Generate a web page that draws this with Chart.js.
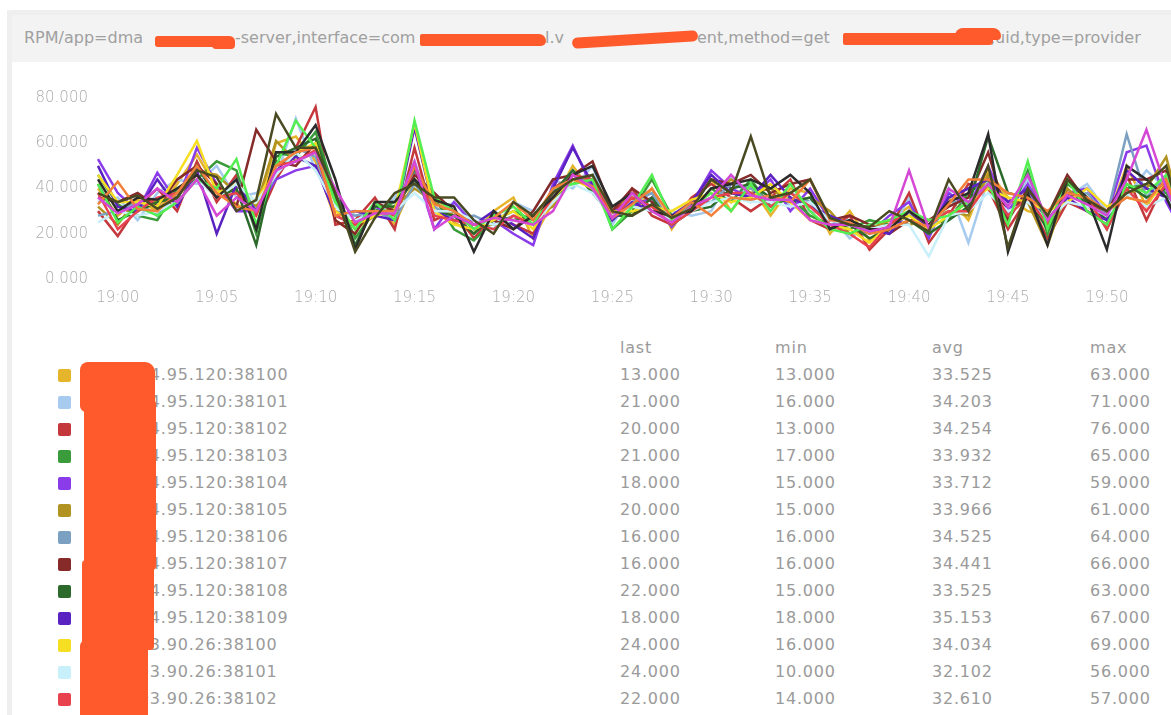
<!DOCTYPE html>
<html>
<head>
<meta charset="utf-8">
<title>RPM</title>
<script src="https://cdn.jsdelivr.net/npm/chart.js@4.4.1/dist/chart.umd.min.js"></script>
<style>
  html, body { margin: 0; padding: 0; width: 1171px; height: 715px; overflow: hidden; background: #fff; }
  body { position: relative; font-family: "DejaVu Sans", Verdana, sans-serif; }
  .panel-edge-left { position: absolute; left: 7px; top: 10px; width: 5px; height: 705px; background: #efefef; }
  .panel-edge-top { position: absolute; left: 7px; top: 10px; width: 1164px; height: 5px; background: #efefef; }
  .title-bar { position: absolute; left: 12px; top: 15px; width: 1159px; height: 47px; background: #f3f3f3; }
  .seg { position: absolute; top: 28px; font-size: 16px; line-height: 19px; color: #a0a0a0; white-space: nowrap; }
  .blob { position: absolute; background: #ff5a2b; }
  #chart-box { position: absolute; left: 0; top: 80px; width: 1190px; height: 230px; }
  .cell { position: absolute; font-size: 16px; line-height: 20px; color: #9a9a9a; white-space: nowrap; letter-spacing: 0.8px; }
  .swatch { position: absolute; left: 58px; width: 13px; height: 13px; border-radius: 2px; }
</style>
</head>
<body>
<div class="panel-edge-left"></div>
<div class="panel-edge-top"></div>
<div class="title-bar"></div>

<!-- title, with the redacted parts left as gaps -->
<div class="seg" style="left:24px">RPM/app=dma</div>
<div class="seg" style="left:235px">-server,interface=com</div>
<div class="seg" style="left:545px">l.v</div>
<div class="seg" style="left:697px">ent,method=get</div>
<div class="seg" style="left:990px">,uid,type=provider</div>

<div id="chart-box"><canvas id="rpmChart" width="1190" height="230"></canvas></div>
<div id="legend"></div>

<!-- redaction strokes -->
<div class="blob" style="left:155px;top:36px;width:80px;height:11px;border-radius:3px 6px 6px 3px"></div>
<div class="blob" style="left:212px;top:39px;width:23px;height:10px;border-radius:4px"></div>
<div class="blob" style="left:420px;top:34px;width:126px;height:12px;border-radius:2px 7px 5px 2px"></div>
<div class="blob" style="left:572px;top:34px;width:126px;height:11px;border-radius:6px;transform:rotate(-3.5deg)"></div>
<div class="blob" style="left:843px;top:33px;width:150px;height:12px;border-radius:2px 6px 4px 2px"></div>
<div class="blob" style="left:955px;top:28px;width:46px;height:12px;border-radius:8px 8px 4px 4px"></div>
<div class="blob" style="left:80px;top:362px;width:75px;height:50px;border-radius:8px 10px 4px 6px"></div>
<div class="blob" style="left:84px;top:400px;width:72px;height:170px;border-radius:4px"></div>
<div class="blob" style="left:82px;top:560px;width:72px;height:90px;border-radius:4px"></div>
<div class="blob" style="left:80px;top:640px;width:68px;height:80px;border-radius:6px"></div>

<script>
// minutes on the x axis
const times = ['18:59','19:00','19:01','19:02','19:03','19:04','19:05','19:06','19:07','19:08',
  '19:09','19:10','19:11','19:12','19:13','19:14','19:15','19:16','19:17','19:18',
  '19:19','19:20','19:21','19:22','19:23','19:24','19:25','19:26','19:27','19:28',
  '19:29','19:30','19:31','19:32','19:33','19:34','19:35','19:36','19:37','19:38',
  '19:39','19:40','19:41','19:42','19:43','19:44','19:45','19:46','19:47','19:48',
  '19:49','19:50','19:51','19:52','19:53','19:54'];

const yTicks = [0, 20, 40, 60, 80];

// RPM per provider instance
const rpm01 = [40,28,35,30,42,55,40,33,28,60, 63,52,26,20,34,24,44,38,25,20, 30,36,18,34,50,38,30,28,40,22, 35,44,30,41,28,40,38,20,30,17, 26,32,22,36,26,48,36,30,28,44, 32,26,50,32,46,13];
const rpm02 = [34,36,26,38,44,42,50,36,38,45, 71,48,36,28,27,36,52,28,34,26, 22,34,30,44,40,50,24,38,30,30, 28,30,46,34,42,32,30,28,18,24, 20,36,18,40,16,44,32,44,22,36, 42,30,36,48,40,21];
const rpm03 = [30,19,32,40,30,52,34,46,24,44, 58,76,24,26,36,22,58,26,30,18, 28,24,20,40,46,42,28,40,28,24, 36,42,36,30,36,44,26,22,28,13, 22,38,16,28,42,40,22,36,18,34, 30,24,46,26,44,20];
const rpm04 = [46,33,28,26,40,44,52,48,20,56, 54,65,38,18,30,34,48,36,22,17, 26,30,26,36,42,46,22,30,44,28, 30,40,34,44,32,36,28,24,22,26, 24,28,24,26,38,44,26,48,20,42, 36,22,40,42,38,21];
const rpm05 = [53,38,30,47,34,58,42,30,30,44, 48,50,28,24,32,28,50,22,34,24, 26,20,15,42,59,40,30,32,36,23, 33,48,40,36,44,30,40,26,24,20, 28,34,18,38,32,50,30,42,26,38, 40,28,56,59,34,18];
const rpm06 = [32,24,36,34,36,48,46,38,32,61, 52,56,34,22,28,32,40,34,28,24, 24,26,28,32,44,44,32,36,32,26, 32,36,44,38,40,34,36,30,20,22, 26,24,26,30,28,46,34,34,15,40, 32,30,38,40,54,20];
const rpm07 = [28,30,34,28,38,46,36,44,30,46, 58,54,30,28,30,26,42,32,26,28, 24,28,24,38,48,40,26,34,38,24, 34,34,42,40,34,38,34,24,26,20, 22,30,20,34,34,42,28,38,24,36, 38,28,64,36,46,16];
const rpm08 = [36,34,38,32,44,50,42,32,66,52, 50,60,26,20,34,30,46,38,30,22, 26,22,30,44,46,52,30,40,34,26, 32,44,42,46,38,42,44,26,28,24, 20,26,26,32,36,56,26,40,28,46, 34,30,44,44,48,16];
const rpm09 = [42,26,30,34,36,50,36,40,15,54, 58,62,36,15,32,32,44,30,28,20, 28,26,28,38,48,38,28,28,36,24, 30,32,40,42,36,34,36,22,24,18, 22,26,20,26,32,63,38,36,22,38, 34,26,42,36,40,22];
const rpm10 = [50,32,30,44,32,48,20,42,30,48, 54,50,28,30,28,26,67,30,26,24, 30,24,18,40,58,42,26,34,30,28, 34,46,38,36,46,36,32,28,24,22, 20,30,22,36,40,44,34,40,26,36, 30,26,48,40,36,18];
const rpm11 = [46,34,34,32,46,61,38,42,34,50, 56,60,30,24,28,30,69,30,24,22, 26,30,22,36,44,40,30,30,32,30, 35,38,34,36,42,34,26,24,22,16, 24,28,22,28,34,40,36,34,30,34, 40,32,36,34,42,24];
const rpm12 = [25,30,28,30,34,44,36,42,34,46, 56,48,32,26,29,30,38,30,30,26, 24,26,24,34,42,38,28,32,30,26, 30,34,36,34,34,32,34,26,24,22, 24,24,10,28,30,38,30,34,26,34, 32,28,38,32,36,24];
const rpm13 = [38,22,30,36,38,46,36,38,28,50, 52,57,28,24,30,28,50,28,26,24, 22,28,24,36,46,44,27,36,32,24, 30,36,38,38,32,38,32,24,20,14, 24,30,24,30,30,42,28,36,24,38, 36,22,40,30,42,22];
const rpm14 = [42,25,32,28,34,44,40,53,24,50, 70,58,34,22,34,26,70,36,30,22, 28,32,24,40,42,44,22,32,46,26, 32,38,30,42,30,42,30,22,20,24, 26,30,26,28,34,42,24,52,22,44, 30,24,42,38,46,20];
const rpm15 = [44,30,36,35,40,46,36,44,22,56, 56,68,44,13,34,34,44,35,32,12, 30,22,28,36,46,50,32,38,30,28, 30,40,42,44,40,46,38,22,26,22, 22,30,24,34,38,64,12,38,15,44, 36,13,50,44,36,18];
const rpm16 = [33,43,31,30,38,50,38,32,30,50, 56,58,28,30,30,30,50,33,30,24, 27,34,26,40,44,41,27,33,40,27, 34,28,36,35,37,34,44,26,25,20, 22,26,23,33,44,44,38,36,30,38, 36,30,36,34,44,20];
const rpm17 = [36,29,33,40,34,44,28,36,30,48, 52,56,40,25,29,29,52,22,28,24, 27,26,24,30,46,40,27,38,30,25, 32,36,46,37,35,35,26,24,24,21, 23,48,22,40,34,42,32,46,26,37, 33,28,44,66,40,20];
const rpm18 = [38,34,37,31,36,48,45,30,35,73, 58,58,38,12,27,38,42,36,36,26, 20,34,28,38,44,46,30,28,33,27, 31,44,38,63,36,38,44,27,24,23, 30,26,21,44,30,50,14,40,28,44, 35,30,38,42,50,18];

const lineColors = ['#E5B52C','#A6CBEF','#C4383C','#3A9B3A','#8A3BEA','#B09320','#7BA0C2','#862A2A','#2C6A2C',
  '#5A22C0','#F6DE22','#C8F0FA','#E8424E','#52EE52','#2B2B2B','#F2803A','#D548D5','#4A4A22'];
const allSeries = [rpm01,rpm02,rpm03,rpm04,rpm05,rpm06,rpm07,rpm08,rpm09,rpm10,rpm11,rpm12,rpm13,rpm14,rpm15,rpm16,rpm17,rpm18];

// legend table (only the rows that fit on screen)
const hosts = ['10.104.95.120:38100','10.104.95.120:38101','10.104.95.120:38102','10.104.95.120:38103','10.104.95.120:38104',
  '10.104.95.120:38105','10.104.95.120:38106','10.104.95.120:38107','10.104.95.120:38108','10.104.95.120:38109',
  '10.103.90.26:38100','10.103.90.26:38101','10.103.90.26:38102'];
const lastVals = [13,21,20,21,18,20,16,16,22,18,24,24,22];
const minVals = [13,16,13,17,15,15,16,16,15,18,16,10,14];
const avgVals = [33.525,34.203,34.254,33.932,33.712,33.966,34.525,34.441,33.525,35.153,34.034,32.102,32.610];
const maxVals = [63,71,76,65,59,61,64,66,63,67,69,56,57];

document.addEventListener('DOMContentLoaded', () => {
    // --- legend ---
    const legend = document.getElementById('legend');
    const colX = [620, 775, 932, 1090];
    const addCell = (text, x, centerY) => {
        const d = document.createElement('div');
        d.className = 'cell';
        d.style.left = x + 'px';
        d.style.top = (centerY - 10) + 'px';
        d.textContent = text;
        legend.appendChild(d);
    };
    ['last', 'min', 'avg', 'max'].forEach((h, i) => addCell(h, colX[i], 348));
    hosts.forEach((host, i) => {
        const cy = 375 + i * 27;
        const sw = document.createElement('div');
        sw.className = 'swatch';
        sw.style.top = (cy - 6) + 'px';
        sw.style.background = lineColors[i];
        legend.appendChild(sw);
        addCell(host, 100, cy);
        addCell(lastVals[i].toFixed(3), colX[0], cy);
        addCell(minVals[i].toFixed(3), colX[1], cy);
        addCell(avgVals[i].toFixed(3), colX[2], cy);
        addCell(maxVals[i].toFixed(3), colX[3], cy);
    });

    // --- chart ---
    const datasets = allSeries.map((data, i) => ({
        label: hosts[i] || ('series ' + (i + 1)),
        data: data,
        borderColor: lineColors[i],
        backgroundColor: lineColors[i],
        borderWidth: 2.5,
        pointRadius: 0,
        tension: 0,
        order: -i   // later series on top
    }));

    const tickFont = { family: '"DejaVu Sans", Verdana, sans-serif', size: 15, weight: '200' };

    new Chart(document.getElementById('rpmChart').getContext('2d'), {
        type: 'line',
        data: { labels: times, datasets: datasets },
        options: {
            responsive: false,
            animation: false,
            layout: { padding: { top: 18, right: 4, left: 0, bottom: 0 } },
            plugins: { legend: { display: false }, tooltip: { enabled: false } },
            scales: {
                x: {
                    type: 'category',
                    offset: false,
                    grid: { display: false },
                    border: { display: false },
                    ticks: {
                        autoSkip: false,
                        maxRotation: 0,
                        minRotation: 0,
                        padding: 2,
                        color: '#ababab',
                        font: tickFont,
                        callback: function (value) {
                            const t = this.getLabelForValue(value);
                            const mm = t.slice(3);
                            return (t.startsWith('19') && (mm.endsWith('0') || mm.endsWith('5'))) ? t : '';
                        }
                    },
                    afterFit: (scale) => { scale.height = 31; }
                },
                y: {
                    min: 0,
                    max: 80,
                    grid: { display: false },
                    border: { display: false },
                    afterBuildTicks: (scale) => { scale.ticks = yTicks.map(v => ({ value: v })); },
                    ticks: {
                        padding: 2,
                        color: '#ababab',
                        font: tickFont,
                        callback: (v) => Number(v).toFixed(3)
                    },
                    afterFit: (scale) => { scale.width = 98; }
                }
            }
        }
    });
});
</script>
</body>
</html>
